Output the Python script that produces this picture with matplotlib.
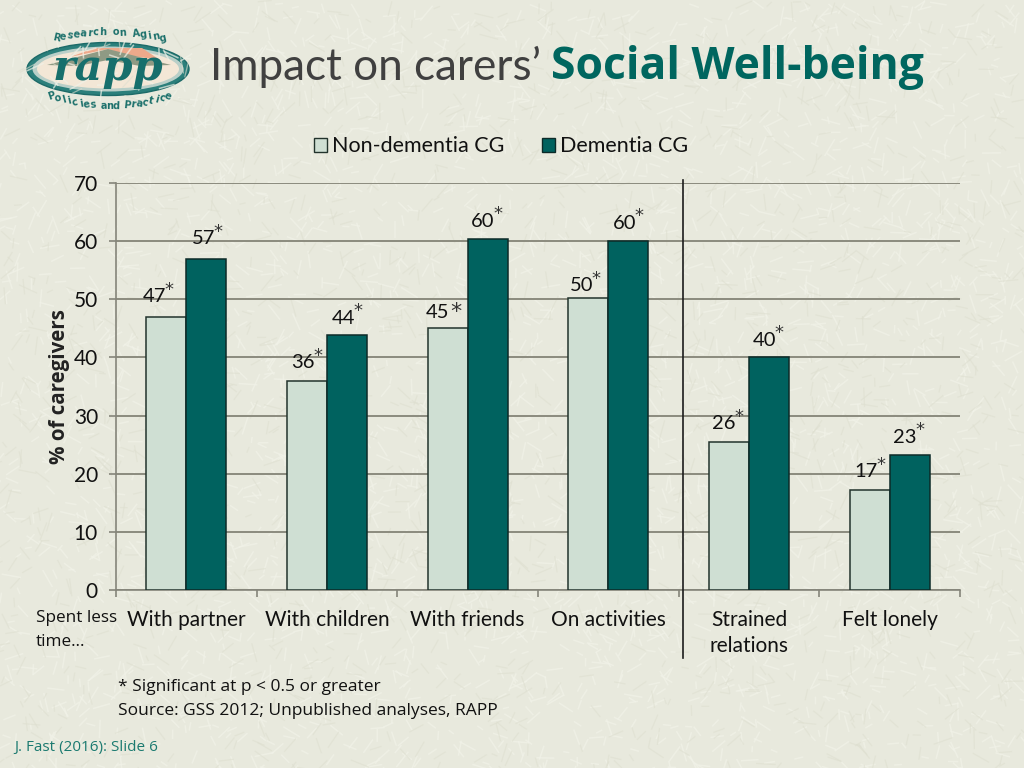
import numpy as np
import matplotlib
matplotlib.use('Agg')
import matplotlib.pyplot as plt
from matplotlib.collections import LineCollection
from matplotlib.patches import Ellipse, Polygon, Patch

# chart data
categories = ['With partner', 'With children', 'With friends', 'On activities',
              'Strained\nrelations', 'Felt lonely']
non_dementia = [47, 36, 45, 50.3, 25.5, 17.2]
dementia = [57, 43.8, 60.3, 60, 40, 23.2]
non_dementia_labels = ['47', '36', '45', '50', '26', '17']
dementia_labels = ['57', '44', '60', '60', '40', '23']
y_ticks = [0, 10, 20, 30, 40, 50, 60, 70]

# label offsets from the bar top, in pixels
light_offsets = [(-12, 20), (-4, 18), (-10, 16), (-7, 12), (-5, 18), (-4, 18)]
dark_offsets = [(-3, 20), (-4, 17), (-5, 18), (-4, 18), (-5, 17), (-5, 18)]

LIGHT = '#cfdfd3'
DARK = '#00625f'
BG = '#e8e9dd'
TEXT_FONT = 'Lato'
NOTE_FONT = 'Open Sans'

fig = plt.figure(figsize=(10.24, 7.68), dpi=100, facecolor=BG)

# page layer, works in image pixels
page = fig.add_axes([0, 0, 1, 1], zorder=0)
page.set_xlim(0, 1024)
page.set_ylim(768, 0)
page.axis('off')

# paper texture, only decoration
rng = np.random.RandomState(6)
n = 5000
px, py = rng.uniform(0, 1024, n), rng.uniform(0, 768, n)
ang, size = rng.uniform(0, np.pi, n), rng.uniform(6, 20, n)
segs = np.stack([np.c_[px, py], np.c_[px + size * np.cos(ang), py + size * np.sin(ang)]], axis=1)
page.add_collection(LineCollection(segs[:3200], colors='#f1f2e8', linewidths=1.1, alpha=0.7))
page.add_collection(LineCollection(segs[3200:], colors='#dedfd0', linewidths=0.9, alpha=0.6))

# logo
page.add_patch(Ellipse((108, 69), 162, 53, fc='#2b7f7b', ec='#1c6a68', lw=1))
page.add_patch(Ellipse((108, 69), 151, 45, fc='#b9cfc8', ec='none'))
page.add_patch(Ellipse((108, 69), 142, 39, fc='#f3e7d6', ec='none'))
page.add_patch(Polygon([(70, 57), (95, 48), (142, 48), (160, 60), (125, 55), (108, 49)], fc='#eda98b', ec='none'))
page.add_patch(Polygon([(47, 65), (108, 49), (171, 65), (140, 66), (108, 60), (78, 66)], fc='#8f9a84', ec='none'))
page.text(108, 68, 'rapp', family='DejaVu Serif', style='italic', weight='bold', size=31, color='#176f6c',
          ha='center', va='center')


def arc_text(s, x0, x1, ymid, bulge, fontsize):
    xs = np.linspace(x0, x1, len(s))
    u = (xs - (x0 + x1) / 2) / ((x1 - x0) / 2)
    for ch, x, t in zip(s, xs, u):
        y = ymid + bulge * t * t
        rot = np.degrees(np.arctan(2 * bulge * t / ((x1 - x0) / 2)))
        page.text(x, y, ch, family='DejaVu Sans', weight='bold', size=fontsize, color='#1d716c',
                  ha='center', va='center', rotation=rot)


arc_text('Research on Aging', 56, 163, 32, 6, 7)
arc_text('Policies and Practice', 52, 168, 106, -10, 7)

# title
page.text(210, 67, 'Impact on carers\u2019', family=TEXT_FONT, size=31.7,
          color='#404040', ha='left', va='center')
page.text(551, 68, 'Social Well-being', family=NOTE_FONT, weight='bold', size=32,
          color='#00665f', ha='left', va='center')

# notes
page.text(36, 618, 'Spent less', family=NOTE_FONT, size=12.3, color='#111111', va='center')
page.text(36, 642, 'time\u2026', family=NOTE_FONT, size=12.3, color='#111111', va='center')
page.text(118, 687, '* Significant at p < 0.5 or greater', family=NOTE_FONT, size=12.5,
          color='#111111', va='center')
page.text(118, 711, 'Source: GSS 2012; Unpublished analyses, RAPP', family=NOTE_FONT, size=12.5,
          color='#111111', va='center')
page.text(14, 747, 'J. Fast (2016): Slide 6', family=NOTE_FONT, size=11, color='#1b7a70', va='center')

# chart
ax = fig.add_axes([116 / 1024, 1 - 590 / 768, 844 / 1024, 407 / 768], zorder=1)
ax.patch.set_alpha(0)
x = np.arange(len(categories))
w = 0.285
bars1 = ax.bar(x - w / 2, non_dementia, w, color=LIGHT, edgecolor='#22332c', linewidth=1.1, zorder=3)
bars2 = ax.bar(x + w / 2, dementia, w, color=DARK, edgecolor='#0c2a28', linewidth=1.1, zorder=3)

ax.set_xlim(-0.5, 5.5)
ax.set_ylim(0, 70)
ax.set_yticks(y_ticks)
ax.set_xticks(np.arange(7) - 0.5)
ax.set_xticklabels([])
ax.set_xticks(x, minor=True)
ax.set_xticklabels(categories, minor=True, family=TEXT_FONT, size=15, color='#111111', linespacing=1.35)
ax.tick_params(axis='x', which='minor', length=0, pad=14.5)
ax.tick_params(axis='x', which='major', length=5, width=1.2, color='#85857a')
ax.tick_params(axis='y', length=5, width=1.2, color='#85857a', pad=8, labelsize=15)
for lab in ax.get_yticklabels():
    lab.set_family(TEXT_FONT)
    lab.set_color('#111111')
ax.grid(axis='y', color='#8b8b7e', linewidth=1.4, zorder=1)
ax.set_axisbelow(True)
for side in ['top', 'right']:
    ax.spines[side].set_visible(False)
for side in ['left', 'bottom']:
    ax.spines[side].set_color('#85857a')
    ax.spines[side].set_linewidth(1.2)

ax.set_ylabel('% of caregivers', family=NOTE_FONT, weight='bold', size=14.8, color='#222222')
ax.yaxis.set_label_coords((70 - 116) / 844, (590 - 387) / 407)

# divider between the two groups of questions
ax.plot([3.53, 3.53], [-11.7, 70.5], color='#1c1c1c', linewidth=1.2, clip_on=False, zorder=4)


def add_labels(bars, labels, offsets):
    for i, (bar, lab, (dx, dy)) in enumerate(zip(bars, labels, offsets)):
        cx = bar.get_x() + bar.get_width() / 2
        top = bar.get_height()
        ax.annotate(lab, (cx, top), xytext=(dx * 0.72, dy * 0.72), textcoords='offset points',
                    family=TEXT_FONT, size=14.5, color='#111111', ha='center', va='center', zorder=5)
        # the 45 has its star on the line, the others are raised
        sx, sy, ss = (18, 0, 16) if lab == '45' else (15, 7, 13)
        ax.annotate('*', (cx, top), xytext=((dx + sx) * 0.72, (dy + sy) * 0.72),
                    textcoords='offset points', family='DejaVu Sans', size=ss,
                    color='#333333', ha='center', va='center', zorder=5)


add_labels(bars1, non_dementia_labels, light_offsets)
add_labels(bars2, dementia_labels, dark_offsets)

handles = [Patch(fc=LIGHT, ec='#22332c', lw=1), Patch(fc=DARK, ec='#0c2a28', lw=1)]
fig.legend(handles, ['Non-dementia CG', 'Dementia CG'], loc='center',
           bbox_to_anchor=(501 / 1024, 1 - 146.5 / 768), ncol=2, frameon=False,
           prop={'family': TEXT_FONT, 'size': 15.5}, handlelength=0.6, handleheight=0.6,
           handletextpad=0.25, columnspacing=1.75, labelcolor='#111111')

fig.savefig('out.png', dpi=100, facecolor=BG)
